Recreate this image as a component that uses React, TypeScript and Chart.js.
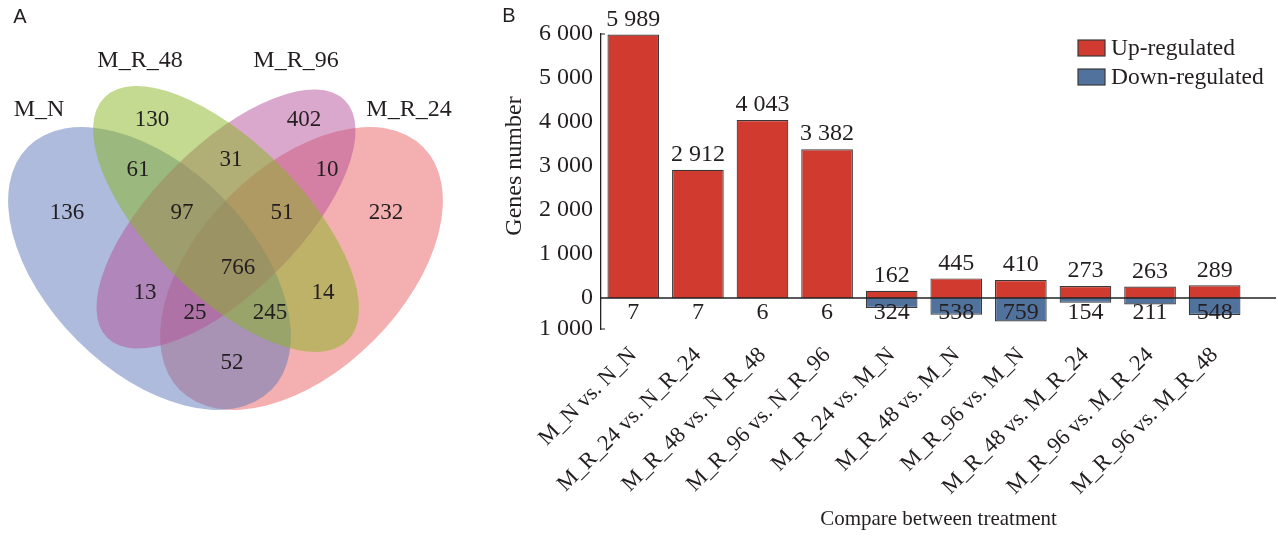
import React, { useEffect, useRef } from 'react';
import { Chart, registerables } from 'chart.js';

Chart.register(...registerables);

// ---------------- Panel A: Venn data ----------------
const vennSets = ['M_N', 'M_R_48', 'M_R_96', 'M_R_24'];
const vennRegions = [
  'M_N', 'M_R_48', 'M_R_96', 'M_R_24',
  'M_N∩M_R_48', 'M_R_48∩M_R_96', 'M_R_96∩M_R_24',
  'M_N∩M_R_48∩M_R_96', 'M_R_48∩M_R_96∩M_R_24',
  'all', 'M_N∩M_R_96', 'M_R_48∩M_R_24',
  'M_N∩M_R_96∩M_R_24', 'M_N∩M_R_48∩M_R_24', 'M_N∩M_R_24',
];
const vennCounts = [136, 130, 402, 232, 61, 31, 10, 97, 51, 766, 13, 14, 25, 245, 52];

// ---------------- Panel B: bar data ----------------
const comparisons = [
  'M_N vs. N_N', 'M_R_24 vs. N_R_24', 'M_R_48 vs. N_R_48', 'M_R_96 vs. N_R_96',
  'M_R_24 vs. M_N', 'M_R_48 vs. M_N', 'M_R_96 vs. M_N',
  'M_R_48 vs. M_R_24', 'M_R_96 vs. M_R_24', 'M_R_96 vs. M_R_48',
];
const upRegulated = [5989, 2912, 4043, 3382, 162, 445, 410, 273, 263, 289];
const downRegulated = [7, 7, 6, 6, 324, 538, 759, 154, 211, 548];
const upTicks = [0, 1000, 2000, 3000, 4000, 5000, 6000];
const downTicks = [1000];
const seriesNames = ['Up-regulated', 'Down-regulated'];

// ---------------- layout / styles ----------------
const SERIF = '"Liberation Serif", "Times New Roman", serif';
const SANS = '"Liberation Sans", Arial, sans-serif';
const TEXT = '#231f20';
const RED = '#d03a2f';
const BLUE = '#52729e';
const EDGE = '#3a3a3a';

const vennLabelPos: [number, number][] = [
  [67, 213], [152, 120], [304, 120], [386, 213],
  [138, 170], [231, 160], [327, 170],
  [182, 213], [282, 213],
  [238, 268], [145, 293], [323, 293],
  [195, 313], [270, 313], [232, 363],
];
const vennShapes = [
  { cx: 149.5, cy: 268.5, a: 172, b: 102, rot: 45, color: 'rgba(93,119,185,0.5)' },
  { cx: 226, cy: 219, a: 172, b: 76, rot: 45, color: 'rgba(137,181,33,0.5)' },
  { cx: 226, cy: 219, a: 168, b: 73, rot: -45, color: 'rgba(181,81,153,0.5)' },
  { cx: 301.5, cy: 268.5, a: 172, b: 102, rot: -45, color: 'rgba(233,97,97,0.5)' },
];
const vennDrawOrder = [3, 0, 2, 1];
const vennNamePos: [number, number][] = [[39, 110], [140, 61], [296, 61], [409, 110]];

const fmt = (v: number) =>
  String(Math.abs(Math.round(v))).replace(/\B(?=(\d{3})+(?!\d))/g, ' ');

const vennPlugin = {
  id: 'vennDecor',
  beforeDatasetsDraw(chart: any) {
    const { ctx, scales } = chart;
    const x = scales.x;
    const y = scales.y;
    ctx.save();
    for (const i of vennDrawOrder) {
      const s = vennShapes[i];
      const px = x.getPixelForValue(s.cx);
      const py = y.getPixelForValue(s.cy);
      const rx = Math.abs(x.getPixelForValue(s.cx + s.a) - px);
      const ry = Math.abs(y.getPixelForValue(s.cy + s.b) - py);
      ctx.beginPath();
      ctx.ellipse(px, py, rx, ry, (s.rot * Math.PI) / 180, 0, Math.PI * 2);
      ctx.fillStyle = s.color;
      ctx.fill();
    }
    ctx.restore();
  },
  afterDatasetsDraw(chart: any) {
    const { ctx, scales } = chart;
    const x = scales.x;
    const y = scales.y;
    const meta = chart.getDatasetMeta(0);
    ctx.save();
    ctx.fillStyle = TEXT;
    ctx.textAlign = 'center';
    ctx.textBaseline = 'middle';
    ctx.font = `23px ${SERIF}`;
    meta.data.forEach((pt: any, i: number) => {
      ctx.fillText(String(vennCounts[i]), pt.x, pt.y);
    });
    ctx.font = `24px ${SERIF}`;
    vennSets.forEach((name, i) => {
      const [nx, ny] = vennNamePos[i];
      ctx.fillText(name, x.getPixelForValue(nx), y.getPixelForValue(ny));
    });
    ctx.font = `20px ${SANS}`;
    ctx.fillText('A', x.getPixelForValue(20), y.getPixelForValue(17));
    ctx.restore();
  },
};

const barPlugin = {
  id: 'barDecor',
  afterDatasetsDraw(chart: any) {
    const { ctx, scales, chartArea } = chart;
    const y = scales.y;
    const y2 = scales.y2;
    const zero = y.getPixelForValue(0);
    ctx.save();
    // zero line
    ctx.strokeStyle = '#222';
    ctx.lineWidth = 1.4;
    ctx.beginPath();
    ctx.moveTo(chartArea.left, zero);
    ctx.lineTo(chartArea.right, zero);
    ctx.stroke();
    // inward end ticks of the value axis
    ctx.lineWidth = 1.2;
    ctx.beginPath();
    ctx.moveTo(chartArea.left, y.getPixelForValue(6000));
    ctx.lineTo(chartArea.left + 4, y.getPixelForValue(6000));
    ctx.moveTo(chartArea.left, y2.getPixelForValue(-1000));
    ctx.lineTo(chartArea.left + 4, y2.getPixelForValue(-1000));
    ctx.stroke();

    // value labels
    ctx.fillStyle = TEXT;
    ctx.textAlign = 'center';
    ctx.textBaseline = 'middle';
    ctx.font = `24px ${SERIF}`;
    const upMeta = chart.getDatasetMeta(0);
    upMeta.data.forEach((bar: any, i: number) => {
      ctx.fillText(fmt(upRegulated[i]), bar.x, bar.y - 15);
    });
    const downMeta = chart.getDatasetMeta(1);
    downMeta.data.forEach((bar: any, i: number) => {
      ctx.fillText(fmt(downRegulated[i]), bar.x, zero + 15);
    });

    // legend
    const lx = 608;
    chart.data.datasets.forEach((ds: any, i: number) => {
      const top = 40 + i * 29;
      ctx.fillStyle = ds.backgroundColor;
      ctx.fillRect(lx, top, 27, 16);
      ctx.strokeStyle = EDGE;
      ctx.lineWidth = 1.2;
      ctx.strokeRect(lx, top, 27, 16);
      ctx.fillStyle = TEXT;
      ctx.textAlign = 'left';
      ctx.font = `23.5px ${SERIF}`;
      ctx.fillText(ds.label, lx + 33, top + 9);
    });

    // panel letter
    ctx.font = `20px ${SANS}`;
    ctx.textAlign = 'center';
    ctx.fillText('B', 39, 16);
    ctx.restore();
  },
};

export default function App() {
  const vennRef = useRef<HTMLCanvasElement>(null);
  const barRef = useRef<HTMLCanvasElement>(null);

  useEffect(() => {
    const venn = new Chart(vennRef.current as HTMLCanvasElement, {
      type: 'scatter',
      data: {
        labels: vennRegions,
        datasets: [
          {
            label: 'regions',
            data: vennLabelPos.map(([x, y]) => ({ x, y })),
            pointRadius: 0,
            pointHoverRadius: 0,
          },
        ],
      },
      options: {
        animation: false,
        responsive: false,
        devicePixelRatio: 1,
        layout: { padding: 0 },
        plugins: { legend: { display: false }, tooltip: { enabled: false } },
        scales: {
          x: { type: 'linear', min: 0, max: 470, display: false },
          y: { type: 'linear', min: 0, max: 537, reverse: true, display: false },
        },
      },
      plugins: [vennPlugin],
    });

    const tickFont = { family: SERIF, size: 24 };
    const bar = new Chart(barRef.current as HTMLCanvasElement, {
      type: 'bar',
      data: {
        datasets: [
          {
            label: seriesNames[0],
            data: upRegulated.map((v, i) => ({ x: i, y: v })),
            backgroundColor: RED,
            borderColor: EDGE,
            borderWidth: 1.2,
            yAxisID: 'y',
            order: 1,
            grouped: false,
            categoryPercentage: 1,
            barPercentage: 0.8,
          },
          {
            label: seriesNames[1],
            data: downRegulated.map((v, i) => ({ x: i, y: -v })),
            backgroundColor: BLUE,
            borderColor: EDGE,
            borderWidth: 1.2,
            yAxisID: 'y2',
            order: 0,
            grouped: false,
            categoryPercentage: 1,
            barPercentage: 0.8,
          },
        ] as any,
      },
      options: {
        animation: false,
        responsive: false,
        devicePixelRatio: 1,
        layout: { padding: { left: 27, right: 2, top: 34, bottom: 0 } },
        plugins: { legend: { display: false }, tooltip: { enabled: false } },
        scales: {
          x: {
            type: 'linear',
            offset: false,
            min: -0.5,
            max: 9.95,
            grid: { display: false, drawTicks: false, offset: false },
            border: { display: false },
            ticks: {
              autoSkip: false,
              maxRotation: 45,
              minRotation: 45,
              padding: 13,
              color: TEXT,
              font: { family: SERIF, size: 22.5 },
              callback: (v: any) => comparisons[v] ?? '',
            },
            afterBuildTicks: (s: any) => {
              s.ticks = comparisons.map((_, i) => ({ value: i }));
            },
            afterFit: (s: any) => {
              s.height = 208;
            },
            title: {
              display: true,
              text: 'Compare between treatment',
              color: TEXT,
              font: { family: SERIF, size: 21 },
              padding: { top: 4, bottom: 5 },
            },
          },
          y: {
            type: 'linear',
            position: 'left',
            stack: 'v',
            stackWeight: 264,
            weight: 1,
            min: 0,
            max: 6000,
            afterBuildTicks: (s: any) => {
              s.ticks = upTicks.map((v) => ({ value: v }));
            },
            ticks: { padding: 8, color: TEXT, font: tickFont, callback: (v: any) => fmt(v) },
            grid: { display: false, drawTicks: false },
            border: { display: true, color: '#222', width: 1.3 },
            title: {
              display: true,
              text: 'Genes number',
              color: TEXT,
              font: { family: SERIF, size: 24 },
              padding: { top: 3, bottom: 4 },
            },
            afterFit: (s: any) => {
              s.width = 104;
            },
          },
          y2: {
            type: 'linear',
            position: 'left',
            stack: 'v',
            stackWeight: 31,
            weight: 0,
            min: -1000,
            max: 0,
            afterBuildTicks: (s: any) => {
              s.ticks = downTicks.map((v) => ({ value: -v }));
            },
            ticks: { padding: 8, color: TEXT, font: tickFont, callback: (v: any) => fmt(v) },
            grid: { display: false, drawTicks: false },
            border: { display: true, color: '#222', width: 1.3 },
            afterFit: (s: any) => {
              s.width = 104;
            },
          },
        } as any,
      },
      plugins: [barPlugin],
    });

    return () => {
      venn.destroy();
      bar.destroy();
    };
  }, []);

  return (
    <div style={{ position: 'absolute', left: 0, top: 0, width: 1278, height: 537, background: '#fff' }}>
      <canvas ref={vennRef} width={470} height={537} style={{ position: 'absolute', left: 0, top: 0 }} />
      <canvas ref={barRef} width={808} height={537} style={{ position: 'absolute', left: 470, top: 0 }} />
    </div>
  );
}
